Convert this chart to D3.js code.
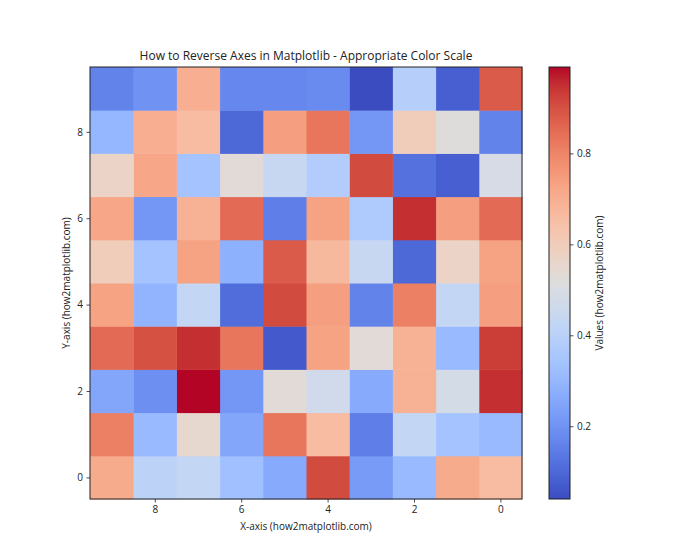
<!DOCTYPE html>
<html><head><meta charset="utf-8">
<script src="https://cdn.jsdelivr.net/npm/d3@7"></script>
<style>body{margin:0;background:#fff}text{font-family:"Open Sans","DejaVu Sans",sans-serif;fill:#222}</style>
</head><body><svg id="c" width="700" height="560"></svg>
<script>
// values[y][x], y = 0..9 (bottom to top), x = 0..9
const row0 = [0.66,0.71,0.31,0.22,0.91,0.26,0.33,0.43,0.41,0.71];
const row1 = [0.31,0.34,0.43,0.15,0.66,0.83,0.25,0.55,0.31,0.81];
const row2 = [0.95,0.48,0.69,0.26,0.47,0.53,0.21,0.99,0.19,0.25];
const row3 = [0.93,0.31,0.69,0.53,0.73,0.07,0.83,0.95,0.90,0.85];
const row4 = [0.74,0.43,0.81,0.16,0.74,0.91,0.11,0.43,0.29,0.73];
const row5 = [0.73,0.57,0.10,0.44,0.67,0.88,0.28,0.73,0.34,0.60];
const row6 = [0.85,0.74,0.95,0.37,0.73,0.15,0.85,0.69,0.21,0.72];
const row7 = [0.49,0.08,0.12,0.91,0.38,0.44,0.53,0.34,0.72,0.57];
const row8 = [0.16,0.52,0.60,0.21,0.83,0.74,0.10,0.66,0.70,0.30];
const row9 = [0.88,0.08,0.39,0.04,0.18,0.17,0.17,0.70,0.20,0.16];
const rows = [row0,row1,row2,row3,row4,row5,row6,row7,row8,row9];
const xTicks = [0,2,4,6,8];
const yTicks = [0,2,4,6,8];
const cbTicks = [0.2,0.4,0.6,0.8];
const title = "How to Reverse Axes in Matplotlib - Appropriate Color Scale";
const xLabel = "X-axis (how2matplotlib.com)";
const yLabel = "Y-axis (how2matplotlib.com)";
const cbLabel = "Values (how2matplotlib.com)";

// matplotlib coolwarm
const cw = [[59,76,192],[68,90,204],[77,104,215],[87,117,225],[98,130,234],[108,142,241],[119,154,247],[130,165,251],[141,176,254],[152,185,255],[163,194,255],[174,201,253],[184,208,249],[194,213,244],[204,217,238],[213,219,230],[221,221,221],[229,216,209],[236,211,197],[241,204,185],[245,196,173],[247,187,160],[247,177,148],[247,166,135],[244,154,123],[241,141,111],[236,127,99],[229,112,88],[222,96,77],[213,80,66],[203,62,56],[192,40,47],[180,4,38]];
const coolwarm = d3.piecewise(d3.interpolateRgb, cw.map(c=>`rgb(${c[0]},${c[1]},${c[2]})`));

const cells = [];
rows.forEach((r,y)=>r.forEach((v,x)=>cells.push({x,y,v})));
const ext = d3.extent(cells, d=>d.v);
const color = d3.scaleSequential(coolwarm).domain(ext);

const svg = d3.select("#c");
const L=90, R=522, T=67, B=499;
const xs = d3.scaleLinear().domain([9.5,-0.5]).range([L,R]);
const ys = d3.scaleLinear().domain([-0.5,9.5]).range([B,T]);

svg.append("g").selectAll("rect").data(cells).join("rect")
  .attr("x", d=>xs(d.x+0.5)).attr("y", d=>ys(d.y+0.5))
  .attr("width", d=>xs(d.x-0.5)-xs(d.x+0.5)+0.5)
  .attr("height", d=>ys(d.y-0.5)-ys(d.y+0.5)+0.5)
  .attr("fill", d=>color(d.v));

const xAxis = svg.append("g").attr("transform",`translate(0,${B})`)
  .call(d3.axisBottom(xs).tickValues(xTicks).tickSize(3.5).tickPadding(3.5).tickFormat(d3.format("d")));
const yAxis = svg.append("g").attr("transform",`translate(${L},0)`)
  .call(d3.axisLeft(ys).tickValues(yTicks).tickSize(3.5).tickPadding(3.5).tickFormat(d3.format("d")));
[xAxis,yAxis].forEach(a=>{a.select(".domain").remove();a.selectAll("text").attr("font-size",10).style("fill","#222");a.selectAll("line").attr("stroke","#222").attr("stroke-width",0.8);});
svg.append("rect").attr("x",L).attr("y",T).attr("width",R-L).attr("height",B-T)
  .attr("fill","none").attr("stroke","#222").attr("stroke-width",1);

// colorbar
const cbL=549, cbR=570;
const cs = d3.scaleLinear().domain(ext).range([B,T]);
const grad = svg.append("defs").append("linearGradient").attr("id","g").attr("x1",0).attr("x2",0).attr("y1",1).attr("y2",0);
d3.range(0,1.0001,0.02).forEach(t=>grad.append("stop").attr("offset",t).attr("stop-color",coolwarm(t)));
svg.append("rect").attr("x",cbL).attr("y",T).attr("width",cbR-cbL).attr("height",B-T).attr("fill","url(#g)")
  .attr("stroke","#222").attr("stroke-width",1);
const cAxis = svg.append("g").attr("transform",`translate(${cbR},0)`)
  .call(d3.axisRight(cs).tickValues(cbTicks).tickSize(3.5).tickPadding(3.5).tickFormat(d3.format(".1f")));
cAxis.select(".domain").remove();
cAxis.selectAll("text").attr("font-size",10).style("fill","#222");
cAxis.selectAll("line").attr("stroke","#222").attr("stroke-width",0.8);

svg.append("text").attr("x",(L+R)/2).attr("y",60).attr("text-anchor","middle").attr("font-size",12).text(title);
svg.append("text").attr("x",(L+R)/2).attr("y",530).attr("text-anchor","middle").attr("font-size",10).text(xLabel);
svg.append("text").attr("transform",`translate(70,${(T+B)/2}) rotate(-90)`).attr("text-anchor","middle").attr("font-size",10).text(yLabel);
svg.append("text").attr("transform",`translate(603,${(T+B)/2}) rotate(-90)`).attr("text-anchor","middle").attr("font-size",10).text(cbLabel);
</script></body></html>
